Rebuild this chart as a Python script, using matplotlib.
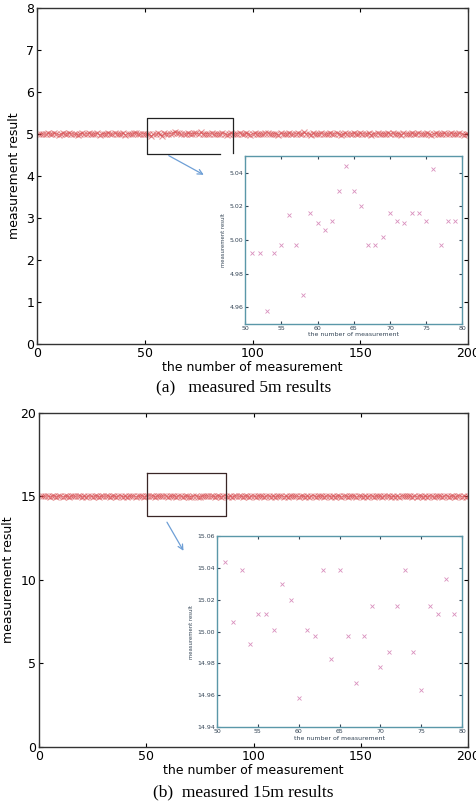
"""
Repeated range measurements at 5 m and 15 m, with zoomed insets.
"""

import numpy as np
import matplotlib
matplotlib.use("Agg")
import matplotlib.pyplot as plt

# ── Data ─────────────────────────────────────────────────────────────────────
idx = list(range(1, 201))

r5_head = [
    4.997, 5.011, 5.002, 4.992, 5.016, 5.006, 4.997, 5.020, 5.011, 4.987,
    5.002, 5.016, 4.997, 5.006, 5.029, 5.011, 4.992, 5.002, 4.978, 5.011,
    5.016, 4.997, 5.006, 5.025, 5.002, 4.992, 5.011, 5.016, 4.983, 5.002,
    5.011, 4.997, 5.034, 5.006, 4.992, 5.016, 5.011, 4.997, 5.002, 5.020,
    4.987, 5.011, 5.006, 4.997, 5.016, 5.029, 5.002, 4.992, 5.011, 5.006,
]
r5_zoom = [   # measurements 51..79, as seen in the inset
    4.992, 4.992, 4.958, 4.992, 4.997, 5.015, 4.997, 4.967, 5.016, 5.010,
    5.006, 5.011, 5.029, 5.044, 5.029, 5.020, 4.997, 4.997, 5.002, 5.016,
    5.011, 5.010, 5.016, 5.016, 5.011, 5.042, 4.997, 5.011, 5.011,
]
r5_tail = [
    5.002, 5.016, 4.992, 5.011, 5.006, 4.997, 5.025, 5.011, 4.987, 5.002,
    5.016, 5.006, 4.997, 5.011, 5.034, 5.002, 4.992, 5.016, 5.011, 4.978,
    5.006, 5.020, 4.997, 5.011, 5.002, 4.992, 5.016, 5.029, 5.006, 4.997,
    5.011, 5.002, 4.987, 5.016, 5.011, 5.006, 4.997, 5.020, 5.002, 4.992,
    5.011, 5.016, 4.997, 5.006, 5.039, 5.011, 5.002, 4.983, 5.016, 5.006,
    4.997, 5.011, 5.020, 5.002, 4.992, 5.011, 5.016, 4.997, 5.006, 5.025,
    5.011, 4.987, 5.002, 5.016, 5.006, 4.997, 5.011, 5.029, 5.002, 4.992,
    5.016, 5.011, 4.997, 5.006, 5.020, 4.978, 5.011, 5.002, 5.016, 4.997,
    5.006, 5.011, 4.992, 5.034, 5.002, 5.016, 4.997, 5.011, 5.006, 4.987,
    5.020, 5.002, 5.011, 4.997, 5.016, 5.006, 4.992, 5.025, 5.011, 5.002,
    4.997, 5.016, 5.006, 4.983, 5.011, 5.020, 5.002, 4.997, 5.011, 5.016,
    5.006, 4.992, 5.029, 5.002, 5.011, 4.997, 5.016, 5.006, 4.987, 5.011,
    5.002,
]

r15_head = [
    15.011, 14.997, 15.020, 15.001, 14.987, 15.016, 15.030, 14.992, 15.006, 15.039,
    14.978, 15.011, 15.001, 14.968, 15.016, 15.025, 14.997, 15.006, 15.044, 14.987,
    15.011, 14.958, 15.020, 15.001, 14.992, 15.034, 15.016, 14.983, 15.006, 15.011,
    14.997, 15.039, 14.973, 15.001, 15.020, 14.987, 15.011, 15.030, 14.992, 15.006,
    14.963, 15.016, 15.001, 15.025, 14.978, 15.011, 14.997, 15.039, 14.987, 15.006,
]
r15_zoom = [
    15.044, 15.006, 15.039, 14.992, 15.011, 15.011, 15.001, 15.030, 15.020, 14.958,
    15.001, 14.997, 15.039, 14.983, 15.039, 14.997, 14.968, 14.997, 15.016, 14.978,
    14.987, 15.016, 15.039, 14.987, 14.963, 15.016, 15.011, 15.033, 15.011,
]
r15_tail = [
    14.997, 15.016, 14.978, 15.030, 15.006, 14.987, 15.011, 15.044, 14.992, 15.020,
    14.968, 15.001, 15.034, 14.997, 15.011, 14.983, 15.025, 15.006, 14.958, 15.016,
    15.001, 14.987, 15.039, 14.997, 15.011, 14.973, 15.020, 15.006, 14.992, 15.030,
    14.978, 15.011, 15.001, 15.039, 14.987, 15.016, 14.963, 15.006, 15.025, 14.997,
    15.011, 14.983, 15.034, 15.001, 14.992, 15.020, 14.968, 15.011, 15.044, 14.987,
    15.006, 14.997, 15.030, 14.978, 15.016, 15.001, 14.992, 15.039, 14.983, 15.011,
    15.020, 14.973, 15.006, 15.025, 14.987, 15.016, 14.997, 15.034, 14.963, 15.001,
    15.011, 14.992, 15.039, 14.978, 15.006, 15.020, 14.987, 15.030, 14.997, 15.011,
    14.958, 15.016, 15.001, 15.044, 14.983, 15.006, 14.992, 15.025, 14.968, 15.011,
    15.034, 14.997, 15.001, 15.020, 14.978, 15.016, 14.987, 15.039, 15.006, 14.973,
    15.011, 14.992, 15.030, 15.001, 14.963, 15.016, 14.997, 15.025, 14.983, 15.006,
    15.039, 14.987, 15.011, 15.020, 14.968, 15.001, 15.034, 14.992, 15.016, 14.978,
    15.006,
]

r5 = r5_head + r5_zoom + r5_tail
r15 = r15_head + r15_zoom + r15_tail
zoom_idx = list(range(51, 80))

# ── Style ────────────────────────────────────────────────────────────────────
plt.rcParams.update({
    "font.family": "DejaVu Sans",
    "font.size": 9,
    "xtick.direction": "in",
    "ytick.direction": "in",
    "xtick.top": True,
    "ytick.right": True,
})

MAIN_RED = "#d6474b"
ZOOM_PINK = "#d990bd"
INSET_EDGE = "#5a97a8"
ARROW_BLUE = "#6e9fd6"


def main_panel(ax, y, ylim, yticks):
    # thin joining line + x markers give the dense band seen in the figure
    ax.plot(idx, y, linestyle="-", linewidth=0.7, marker="x", markersize=3.8,
            markeredgewidth=0.8, color=MAIN_RED, alpha=0.55)
    ax.set_xlim(0, 200)
    ax.set_ylim(*ylim)
    ax.set_xticks([0, 50, 100, 150, 200])
    ax.set_yticks(yticks)
    ax.set_xlabel("the number of measurement", fontsize=9, labelpad=1)
    ax.set_ylabel("measurement result", fontsize=9, labelpad=4)
    ax.tick_params(labelsize=9, length=3, pad=2)
    for s in ax.spines.values():
        s.set_color("#333333")
        s.set_linewidth(1.0)


def inset_panel(ax, y, ylim, yticks, yfmt):
    ax.plot(zoom_idx, y, linestyle="none", marker="x", markersize=2.5,
            markeredgewidth=0.6, color=ZOOM_PINK)
    ax.set_xlim(50, 80)
    ax.set_ylim(*ylim)
    ax.set_xticks([50, 55, 60, 65, 70, 75, 80])
    ax.set_yticks(yticks)
    ax.set_yticklabels([yfmt.format(v) for v in yticks])
    ax.set_xlabel("the number of measurement", fontsize=4.5, labelpad=1,
                  color="#334455")
    ax.set_ylabel("measurement result", fontsize=3.8, labelpad=2,
                  color="#334455")
    ax.tick_params(labelsize=4.5, length=2, pad=1.5, colors="#334455")
    for s in ax.spines.values():
        s.set_color(INSET_EDGE)
        s.set_linewidth(1.0)


fig = plt.figure(figsize=(4.77, 8.08), dpi=100)

# ── (a) 5 m ──────────────────────────────────────────────────────────────────
ax_a = fig.add_axes([0.0776, 0.574, 0.9036, 0.416])
main_panel(ax_a, r5, (0, 8), list(range(0, 9)))
ax_a.plot([91, 91, 51, 51, 85], [4.55, 5.38, 5.38, 4.52, 4.52],
          color="#222222", linewidth=0.9)
ax_a.annotate("", xy=(78.5, 4.0), xytext=(60, 4.52),
              arrowprops=dict(arrowstyle="->", color=ARROW_BLUE, lw=0.9))

ins_a = fig.add_axes([0.514, 0.599, 0.455, 0.208])
inset_panel(ins_a, r5_zoom, (4.95, 5.05),
            [4.96, 4.98, 5.00, 5.02, 5.04], "{:.2f}")

fig.text(0.51, 0.521, "(a)   measured 5m results", ha="center", va="center",
         family="Liberation Serif", fontsize=12.5)

# ── (b) 15 m ─────────────────────────────────────────────────────────────────
ax_b = fig.add_axes([0.0818, 0.0755, 0.8994, 0.4135])
main_panel(ax_b, r15, (0, 20), [0, 5, 10, 15, 20])
ax_b.plot([50.2, 87, 87, 50.2, 50.2], [16.43, 16.43, 13.8, 13.8, 16.43],
          color="#3a2626", linewidth=0.9)
ax_b.annotate("", xy=(68, 11.6), xytext=(59, 13.6),
              arrowprops=dict(arrowstyle="->", color=ARROW_BLUE, lw=0.9))

ins_b = fig.add_axes([0.455, 0.1002, 0.514, 0.236])
inset_panel(ins_b, r15_zoom, (14.94, 15.06),
            [14.94, 14.96, 14.98, 15.00, 15.02, 15.04, 15.06], "{:.2f}")

fig.text(0.51, 0.019, "(b)  measured 15m results", ha="center", va="center",
         family="Liberation Serif", fontsize=12.5)

fig.savefig("out.png", dpi=100)
print("Saved → out.png")
